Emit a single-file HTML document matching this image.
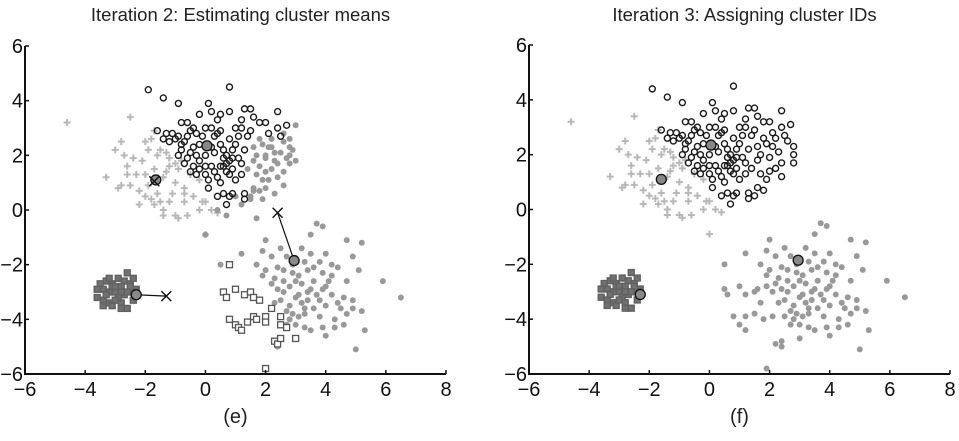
<!DOCTYPE html>
<html><head><meta charset="utf-8"><style>
html,body{margin:0;padding:0;background:#fff;}
svg{display:block;font-family:"Liberation Sans",Arial,sans-serif;}
</style></head><body>
<svg id="c" width="959" height="441" viewBox="0 0 959 441"></svg>
<script>
const crossPts=[[-4.6,3.2],[-2.5,3.4],[-2.8,2.5],[-3.0,2.2],[-2.7,2.0],[-2.4,1.9],[-2.6,1.6],[-2.6,1.3],[-3.3,1.2],[-2.3,1.3],[-2.0,1.3],[-1.7,1.5],[-2.9,0.8],[-2.8,0.9],[-2.5,0.9],[-2.2,0.7],[-1.9,0.9],[-1.6,0.6],[-1.8,0.4],[-1.7,0.2],[-1.5,0.3],[-1.2,0.3],[-2.2,0.2],[-1.4,0.0],[-1.4,-0.2],[-1.0,-0.2],[-0.9,-0.3],[-0.6,-0.2],[-0.1,0.3],[0.0,0.3],[-0.2,0.0],[0.2,0.0],[0.4,-0.1],[0.0,-0.9],[-0.7,0.6],[-0.7,0.8],[-0.4,0.5],[-1.0,1.0],[-1.3,1.4],[-1.0,1.7],[-1.6,2.0],[-1.3,2.1],[-1.8,2.6],[-1.7,2.9],[-2.0,2.5],[-1.5,2.2],[-1.2,1.6],[-0.8,1.8],[-2.1,1.8],[-1.9,2.2],[-0.5,1.3],[-0.2,1.1],[-1.4,1.2],[-2.0,0.5],[-0.7,0.3],[-1.1,0.6],[-1.2,1.9],[-0.9,1.5]];
const circlePts=[[-1.9,4.4],[0.8,4.5],[-1.4,4.1],[-0.9,3.9],[0.1,3.9],[0.2,3.6],[0.5,3.5],[0.8,3.6],[1.3,3.7],[1.5,3.7],[2.4,3.6],[-0.2,3.5],[0.4,3.3],[1.6,3.4],[1.8,3.2],[2.0,3.2],[2.7,3.1],[-0.8,3.2],[-0.6,3.2],[-0.4,3.0],[0.0,3.0],[0.2,3.0],[0.5,2.9],[1.0,3.0],[1.2,3.0],[2.4,3.0],[-1.6,2.9],[-1.3,2.8],[-1.0,2.6],[-0.6,2.7],[-0.3,2.8],[0.3,2.7],[0.8,2.6],[1.4,2.7],[1.8,2.6],[2.1,2.8],[2.5,2.7],[2.6,2.5],[-1.2,2.5],[-0.8,2.4],[-0.2,2.4],[0.5,2.4],[1.0,2.4],[1.6,2.3],[2.1,2.3],[2.8,2.3],[-0.9,2.0],[-0.5,2.1],[0.0,2.0],[0.3,2.1],[0.6,1.9],[0.7,1.7],[0.8,1.8],[1.2,1.7],[1.6,1.8],[2.0,1.9],[2.3,2.1],[2.8,2.0],[2.8,1.7],[2.4,1.7],[-0.5,1.4],[-0.3,1.3],[0.0,1.3],[0.4,1.2],[0.8,1.3],[1.2,1.3],[1.7,1.3],[2.0,1.4],[2.4,1.2],[0.1,0.8],[0.6,0.6],[0.9,0.6],[1.3,0.6],[1.6,0.8],[1.8,0.7],[0.4,0.5],[0.8,0.5],[1.5,0.5],[0.7,0.2],[1.3,0.4],[-0.7,1.7],[0.2,1.6],[1.0,1.1],[0.5,1.0],[-0.2,1.8],[1.9,1.1],[2.2,1.5],[0.6,1.6],[0.9,1.9],[0.7,2.0],[-0.4,1.6],[-1.1,2.8],[-0.9,2.7],[-0.7,2.5],[-0.4,2.3],[-0.6,1.9],[-0.2,1.5],[0.1,1.1],[0.3,1.4],[0.5,1.6],[0.6,2.2],[0.4,2.8],[1.1,2.7],[1.3,2.2],[1.1,1.9],[1.4,1.5],[0.9,1.5],[0.7,1.4],[0.2,2.3],[-0.1,2.7],[-0.5,2.9],[1.5,2.9],[1.9,2.4],[2.2,2.6],[1.7,2.0],[0.0,1.6],[-0.3,2.0],[-1.4,2.6],[-0.8,2.2],[0.9,2.2],[1.2,3.3]];
const squarePts=[[-3.5,-2.7],[-3.3,-2.6],[-3.1,-2.7],[-2.9,-2.5],[-2.7,-2.6],[-2.5,-2.7],[-2.6,-2.3],[-3.6,-2.9],[-3.6,-3.2],[-3.4,-3.3],[-3.2,-3.4],[-3.1,-3.5],[-2.8,-3.4],[-2.6,-3.6],[-2.4,-3.3],[-2.3,-2.9],[-2.4,-3.0],[-3.0,-3.0],[-2.8,-2.8],[-3.2,-3.0],[-2.7,-3.1],[-2.5,-2.8],[-3.4,-2.9],[-2.9,-3.2],[-3.1,-2.8],[-3.0,-3.3],[-2.6,-3.0],[-3.3,-3.1],[-2.8,-3.0],[-3.0,-2.8],[-3.4,-3.5],[-2.8,-3.6],[-2.4,-2.5],[-3.2,-2.5]];
const movedSquarePts=[[0.8,-2.0],[0.6,-3.0],[0.7,-3.2],[1.0,-2.9],[1.3,-3.1],[1.5,-3.0],[1.6,-3.2],[1.8,-3.3],[0.8,-4.0],[1.0,-4.2],[1.1,-4.3],[1.2,-4.4],[1.4,-4.1],[1.6,-3.9],[1.7,-4.0],[2.0,-3.9],[2.0,-4.1],[2.2,-3.6],[2.5,-3.9],[2.5,-4.2],[2.7,-4.3],[2.3,-4.8],[2.4,-4.9],[2.5,-4.7],[3.0,-4.7],[2.0,-5.8]];
const dotPts=[[3.7,-0.5],[3.5,-0.9],[3.9,-0.6],[2.0,-1.1],[4.7,-1.1],[5.2,-1.2],[1.2,-1.6],[2.5,-1.4],[3.2,-1.4],[3.5,-1.6],[4.0,-1.6],[4.9,-1.7],[1.9,-1.5],[2.2,-1.7],[2.7,-1.7],[3.3,-1.9],[3.8,-1.9],[4.4,-2.1],[4.2,-2.0],[5.1,-2.2],[1.7,-2.0],[2.0,-2.2],[2.4,-2.1],[2.9,-2.3],[3.4,-2.2],[3.9,-2.3],[4.2,-2.4],[4.7,-2.6],[5.9,-2.6],[0.5,-2.0],[1.9,-2.4],[2.3,-2.5],[2.6,-2.6],[3.0,-2.6],[3.2,-2.7],[3.6,-2.6],[4.0,-2.8],[1.6,-2.9],[1.9,-2.8],[2.1,-3.0],[2.6,-3.0],[3.1,-3.1],[3.4,-3.0],[3.7,-3.1],[4.2,-3.1],[4.6,-3.2],[4.9,-3.3],[6.5,-3.2],[0.5,-2.9],[0.6,-3.1],[1.0,-2.8],[1.2,-3.1],[1.5,-3.0],[1.7,-3.4],[2.3,-3.4],[2.8,-3.5],[3.2,-3.4],[3.6,-3.6],[4.0,-3.5],[4.5,-3.6],[4.9,-3.6],[5.2,-3.7],[1.2,-3.9],[1.5,-3.8],[1.8,-4.0],[2.1,-3.9],[2.5,-3.9],[2.9,-3.8],[3.3,-3.8],[3.8,-3.9],[4.3,-4.0],[4.7,-3.8],[0.8,-3.9],[1.0,-4.2],[1.2,-4.4],[2.7,-4.2],[3.0,-4.2],[3.3,-4.3],[3.5,-4.4],[3.9,-4.3],[4.3,-4.3],[4.6,-4.2],[5.3,-4.4],[3.0,-4.7],[2.4,-4.8],[2.4,-5.0],[2.2,-4.9],[5.0,-5.1],[1.9,-5.8],[4.0,-4.6],[2.9,-2.0],[2.5,-3.3],[3.4,-3.3],[3.9,-2.9],[2.2,-2.7],[2.8,-2.8],[3.1,-2.4],[3.5,-2.9],[3.3,-3.6],[2.7,-3.7],[3.0,-3.2],[3.8,-3.3],[4.1,-2.6],[2.4,-2.9],[3.6,-2.1],[2.6,-2.2],[3.1,-3.9],[4.4,-3.4],[2.8,-4.0]];
const upperDotPtsE=[[0.0,-0.9],[0.7,-0.2],[1.7,-0.3],[0.4,0.0],[1.5,0.4],[2.0,0.8],[2.6,0.9],[1.2,0.2],[3.0,1.8],[2.9,2.2],[3.0,3.1],[2.6,2.8],[2.2,2.3],[2.1,1.1],[1.8,1.6],[2.6,1.4],[1.6,0.7],[1.0,0.5],[2.5,2.1],[2.8,2.6],[2.3,1.8],[1.9,0.4],[2.3,0.6],[2.7,1.9],[2.0,2.0]];
const meansE=[[-1.65,1.1],[0.05,2.35],[2.95,-1.85],[-2.3,-3.1]];
const oldMeansE=[[-1.7,1.05],[0.05,2.35],[2.4,-0.1],[-1.3,-3.15]];
const meansF=[[-1.6,1.1],[0.05,2.35],[2.95,-1.85],[-2.3,-3.1]];
const xTicks=[-6,-4,-2,0,2,4,6,8];
const yTicks=[-6,-4,-2,0,2,4,6];
const NS="http://www.w3.org/2000/svg";
const svg=document.getElementById('c');
function mk(tag,attrs,parent){const e=document.createElementNS(NS,tag);for(const k in attrs)e.setAttribute(k,attrs[k]);(parent||svg).appendChild(e);return e;}
function panel(x0,x1,y0,y1,title,sub,isE){
  const g=mk('g',{});
  
  
  const X=v=>x0+(v+6)/14*(x1-x0), Y=v=>y1-(v+6)/12*(y1-y0);
  const t=mk('text',{x:(x0+x1)/2+5,y:21,'text-anchor':'middle','font-size':18.5,fill:'#222'},g);t.textContent=title;
  
  const s=mk('text',{x:(x0+x1)/2,y:423,'text-anchor':'middle','font-size':20,fill:'#222'},g);s.textContent=sub;
  
  crossPts.forEach(p=>{const cx=X(p[0]),cy=Y(p[1]);const e=mk('path',{d:`M${cx-3.5},${cy}H${cx+3.5}M${cx},${cy-3.5}V${cy+3.5}`,stroke:'#b8b8b8','stroke-width':2},g);
    });
  const dots=isE?dotPts.filter(p=>!(p[0]<2.3&&p[1]<-2.7)).concat(upperDotPtsE):dotPts;
  const circs=isE?circlePts.filter(p=>p[0]<1.4||p[1]>2.6):circlePts;
  const extraDots=isE?circlePts.filter(p=>!(p[0]<1.4||p[1]>2.6)):[];
  dots.concat(extraDots).forEach(p=>{const e=mk('circle',{cx:X(p[0]),cy:Y(p[1]),r:3,fill:'#999'},g);
    });
  circs.forEach(p=>{const e=mk('circle',{cx:X(p[0]),cy:Y(p[1]),r:3,fill:'none',stroke:'#1a1a1a','stroke-width':1.4},g);
    });
  const sq=isE?squarePts.concat(movedSquarePts):squarePts;
  sq.forEach((p,i)=>{const dense=i<squarePts.length;const e=mk('rect',{x:X(p[0])-3,y:Y(p[1])-3,width:6,height:6,fill:dense?'#707070':'#fff',stroke:dense?'#606060':'#555','stroke-width':1.3},g);
    });
  const means=isE?meansE:meansF;
  if(isE){oldMeansE.forEach((o,i)=>{const m=means[i];
    if(Math.abs(o[0]-m[0])+Math.abs(o[1]-m[1])>0.2){const l=mk('line',{x1:X(o[0]),y1:Y(o[1]),x2:X(m[0]),y2:Y(m[1]),stroke:'#111','stroke-width':1.2},g);
      }
  });}
  means.forEach(m=>{const e=mk('circle',{cx:X(m[0]),cy:Y(m[1]),r:5,fill:'#888',stroke:'#111','stroke-width':1.3},g);
    });
  if(isE){oldMeansE.forEach((o,i)=>{if(i===1)return;const cx=X(o[0]),cy=Y(o[1]);
    const e=mk('path',{d:`M${cx-5},${cy-5}L${cx+5},${cy+5}M${cx-5},${cy+5}L${cx+5},${cy-5}`,stroke:'#111','stroke-width':1.4},g);
    });}
  const ax=mk('path',{d:`M${x0},${y0}V${y1}H${x1}`,fill:'none',stroke:'#111','stroke-width':2},g);
  
  xTicks.forEach(v=>{mk('line',{x1:X(v),x2:X(v),y1:y1,y2:y1-4,stroke:'#111','stroke-width':1.5},g);
    const t=mk('text',{x:X(v),y:y1+22,'text-anchor':'middle','font-size':20,fill:'#111'},g);t.textContent=(v<0?'\u2212':'')+Math.abs(v);
    });
  yTicks.forEach(v=>{mk('line',{x1:x0,x2:x0+4,y1:Y(v),y2:Y(v),stroke:'#111','stroke-width':1.5},g);
    const t=mk('text',{x:x0-2,y:Y(v)+7,'text-anchor':'end','font-size':20,fill:'#111'},g);t.textContent=(v<0?'\u2212':'')+Math.abs(v);
    });
}
panel(25,446,46,374,'Iteration 2: Estimating cluster means','(e)',true);
panel(529,950,45,374,'Iteration 3: Assigning cluster IDs','(f)',false);
</script>
</body></html>
